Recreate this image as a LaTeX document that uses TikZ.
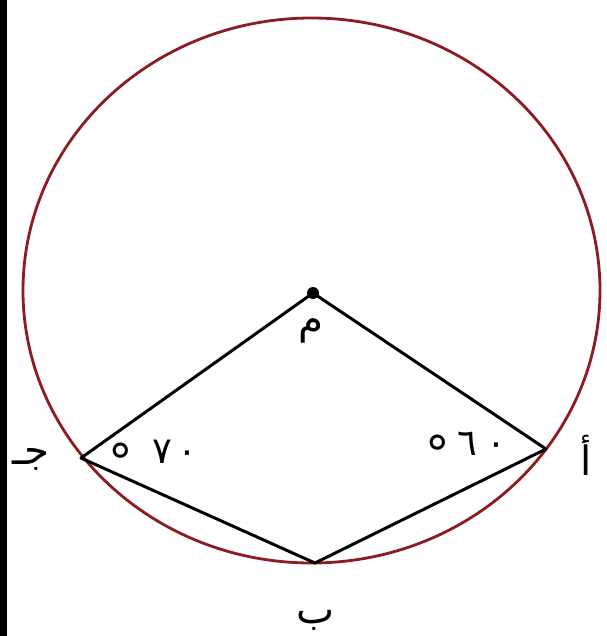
\documentclass[tikz,border=0pt]{standalone}
\usepackage{fontspec}
\newfontfamily\arabicfont[Script=Arabic]{DejaVu Sans}
\TeXXeTstate=1
\usetikzlibrary{calc}
\definecolor{rimred}{RGB}{140,28,34}
\newcommand{\drawside}{\draw[line width=1.7pt, line join=round]}
\newcommand{\arlabel}[1]{\arabicfont\fontsize{23}{27}\selectfont\beginR #1\endR}
\newcommand{\arnum}[1]{\arabicfont\fontsize{21}{25}\selectfont #1}
\newcommand{\degsign}{\raisebox{-9pt}{\fontsize{28}{28}\selectfont °}}

\begin{document}
\begin{tikzpicture}[x=0.02cm, y=-0.02cm]
    \useasboundingbox (0,0) rectangle (606,636);

    % Draw edge bar
    \fill[black] (0,0) rectangle (7,636);

    % Draw circle
    \coordinate (o) at (311.5, 290.5);
    \draw[rimred, line width=1.6pt] (o) ellipse [x radius=288.5, y radius=272.5];

    % Draw points
    \coordinate (m) at (313, 293);
    \coordinate (a) at (546, 449);
    \coordinate (b) at (315, 563);
    \coordinate (c) at (81, 458);

    \drawside (m) -- (a) -- (b) -- (c) -- cycle;
    \fill (m) circle (6);

    % Draw labels
    \node (mlabel) at (311, 331) {\arlabel{م}};
    \node (alabel) at (586, 455) {\arlabel{أ}};
    \node (blabel) at (316, 620) {\arlabel{ب}};
    \node (clabel) at (31, 459) {\arlabel{جـ}};

    \node (aangle) at (466, 452) {\arnum{\degsign\hspace{4pt}٦\hspace{5pt}٠}};
    \node (cangle) at (153, 460) {\arnum{\degsign\hspace{11pt}٧\hspace{3pt}٠}};
\end{tikzpicture}
\end{document}
